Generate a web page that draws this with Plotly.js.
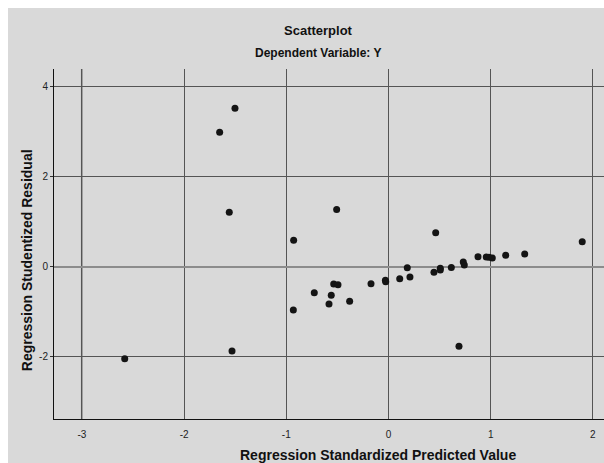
<!DOCTYPE html>
<html>
<head>
<meta charset="utf-8">
<script src="https://cdn.plot.ly/plotly-3.0.1.min.js"></script>
<style>
html,body{margin:0;padding:0;background:#ffffff;overflow:hidden;}
#chart{position:absolute;left:8px;top:8px;width:596px;height:455px;}
</style>
</head>
<body>
<div id="chart"></div>
<script>
// Regression Standardized Predicted Value
const predicted = [-1.502, -1.652, -1.558, -0.507, -0.928, -0.536, -0.494, -0.726, -0.560, -0.582,
  -0.380, -0.931, -1.531, -2.581, 0.462, 1.896, 0.876, 0.957, 0.983, 1.016,
  1.147, 1.333, 0.732, 0.742, 0.615, 0.507, 0.507, 0.445, 0.184, 0.210,
  0.110, -0.027, -0.030, -0.171, 0.690];
// Regression Studentized Residual
const residual = [3.52, 2.99, 1.21, 1.27, 0.59, -0.384, -0.40, -0.578, -0.636, -0.829,
  -0.769, -0.962, -1.873, -2.044, 0.756, 0.556, 0.222, 0.216, 0.209, 0.193,
  0.253, 0.282, 0.104, 0.038, -0.015, -0.036, -0.073, -0.125, -0.022, -0.229,
  -0.267, -0.333, -0.300, -0.378, -1.769];
const xTicks = [-3, -2, -1, 0, 1, 2];
const yTicks = [-2, 0, 2, 4];
const refLinesX = [-3];

const bg = '#d9d9d9';
const grid = '#555555';
const tickFont = {family: 'Liberation Sans Narrow, Arial Narrow, Liberation Sans, Arial', size: 10, color: '#222'};
const titleFont = {family: 'Liberation Sans, Arial', size: 14, color: '#111', weight: 'bold'};

const shapes = refLinesX.map(v => ({
  type: 'line', xref: 'x', yref: 'paper', x0: v, x1: v, y0: 0, y1: 1,
  line: {color: '#9a9a9a', width: 2}, layer: 'below'
}));

const data = [{
  type: 'scatter', mode: 'markers',
  x: predicted, y: residual,
  marker: {color: '#141414', size: 7, line: {width: 0}},
  hoverinfo: 'x+y', showlegend: false
}];

const layout = {
  width: 596, height: 455,
  paper_bgcolor: bg, plot_bgcolor: bg,
  margin: {l: 46, r: 0, t: 61, b: 44, pad: 0},
  showlegend: false,
  xaxis: {
    range: [-3.273, 2.109], tickvals: xTicks, ticktext: xTicks.map(String),
    showgrid: true, gridcolor: grid, gridwidth: 1,
    zeroline: false, showline: true, linecolor: '#111', linewidth: 1,
    ticks: 'outside', ticklen: 6, tickcolor: bg, tickfont: tickFont
  },
  yaxis: {
    range: [-3.384, 4.393], tickvals: yTicks, ticktext: yTicks.map(String),
    showgrid: true, gridcolor: grid, gridwidth: 1,
    zeroline: true, zerolinecolor: '#8c8c8c', zerolinewidth: 2,
    showline: true, linecolor: '#111', linewidth: 1,
    ticks: 'outside', ticklen: 3, tickcolor: '#333', tickfont: tickFont
  },
  shapes: shapes,
  annotations: [
    {text: 'Scatterplot', xref: 'paper', yref: 'paper', x: 0.48, y: 1.111, xanchor: 'center', yanchor: 'middle', showarrow: false,
     font: {family: 'Liberation Sans, Arial', size: 13, color: '#111', weight: 'bold'}},
    {text: 'Dependent Variable: Y', xref: 'paper', yref: 'paper', x: 0.48, y: 1.046, xanchor: 'center', yanchor: 'middle', showarrow: false,
     font: {family: 'Liberation Sans, Arial', size: 12, color: '#111', weight: 'bold'}},
    {text: 'Regression Standardized Predicted Value', xref: 'paper', yref: 'paper', x: 0.589, y: -0.103, xanchor: 'center', yanchor: 'middle', showarrow: false,
     font: titleFont},
    {text: 'Regression Studentized Residual', xref: 'paper', yref: 'paper', x: -0.049, y: 0.454, xanchor: 'center', yanchor: 'middle', showarrow: false,
     textangle: -90, font: titleFont}
  ]
};

Plotly.newPlot('chart', data, layout, {displayModeBar: false, staticPlot: true});
</script>
</body>
</html>
